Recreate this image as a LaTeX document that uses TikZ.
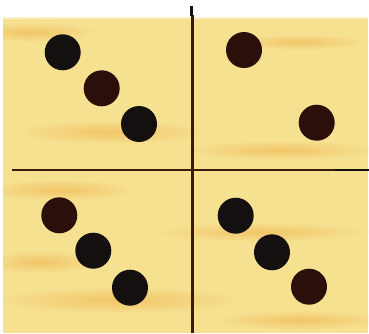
\documentclass[tikz,border=0pt]{standalone}
\begin{document}
\begin{tikzpicture}[x=1pt,y=-1pt,
  dot/.style={circle,fill=dotblack,inner sep=0pt,minimum size=36pt},
  browndot/.style={dot,fill=dotbrown},
  divider/.style={draw=linebrown,line width=2.9pt},
  streak/.style={inner color=woodorange,outer color=wood}]
\definecolor{wood}{HTML}{F6E191}
\definecolor{woodorange}{HTML}{F1C568}
\definecolor{dotblack}{HTML}{141010}
\definecolor{dotbrown}{HTML}{2A0F0A}
\definecolor{linebrown}{HTML}{3A1A0C}
\useasboundingbox (0,0) rectangle (369,333);
\fill[white] (0,0) rectangle (369,333);
% board
\fill[wood] (3,17) rectangle (368,333);
% wood streaks
\begin{scope}
\clip (3,17) rectangle (368,333);
\shade[streak] (30,32) ellipse (70 and 10);
\shade[streak] (110,132) ellipse (100 and 12);
\shade[streak] (300,42) ellipse (70 and 8);
\shade[streak] (280,150) ellipse (100 and 10);
\shade[streak] (60,190) ellipse (80 and 11);
\shade[streak] (120,300) ellipse (130 and 14);
\shade[streak] (260,232) ellipse (110 and 10);
\shade[streak] (300,320) ellipse (90 and 10);
\shade[streak] (40,262) ellipse (60 and 12);
\end{scope}
\fill[white,opacity=0.5] (3,15) rectangle (368,19);
% dividers
\coordinate (vtop) at (192.5,15);
\coordinate (vbot) at (192.5,333);
\coordinate (hl) at (12,170);
\coordinate (hr) at (369,170);
\coordinate (hk) at (335,170);
\draw[divider] (vtop) -- (vbot);
\draw[line width=2.8pt,dotblack] (191.8,6) -- (191.8,16);
\draw[divider] (hl) -- (hr);
\draw[line width=2.9pt,dotblack] (hk) -- (hr);
% dots
\node[dot] (a1) at (62.7,52.3) {};
\node[browndot] (a2) at (101.7,88.3) {};
\node[dot] (a3) at (139,124) {};
\node[browndot] (b1) at (244,50) {};
\node[browndot] (b2) at (316.7,122.7) {};
\node[browndot] (c1) at (59.3,215.3) {};
\node[dot] (c2) at (93.3,250.7) {};
\node[dot] (c3) at (130,287.7) {};
\node[dot] (d1) at (235.7,215.7) {};
\node[dot] (d2) at (272,252.3) {};
\node[browndot] (d3) at (309,286.7) {};
\end{tikzpicture}
\end{document}
